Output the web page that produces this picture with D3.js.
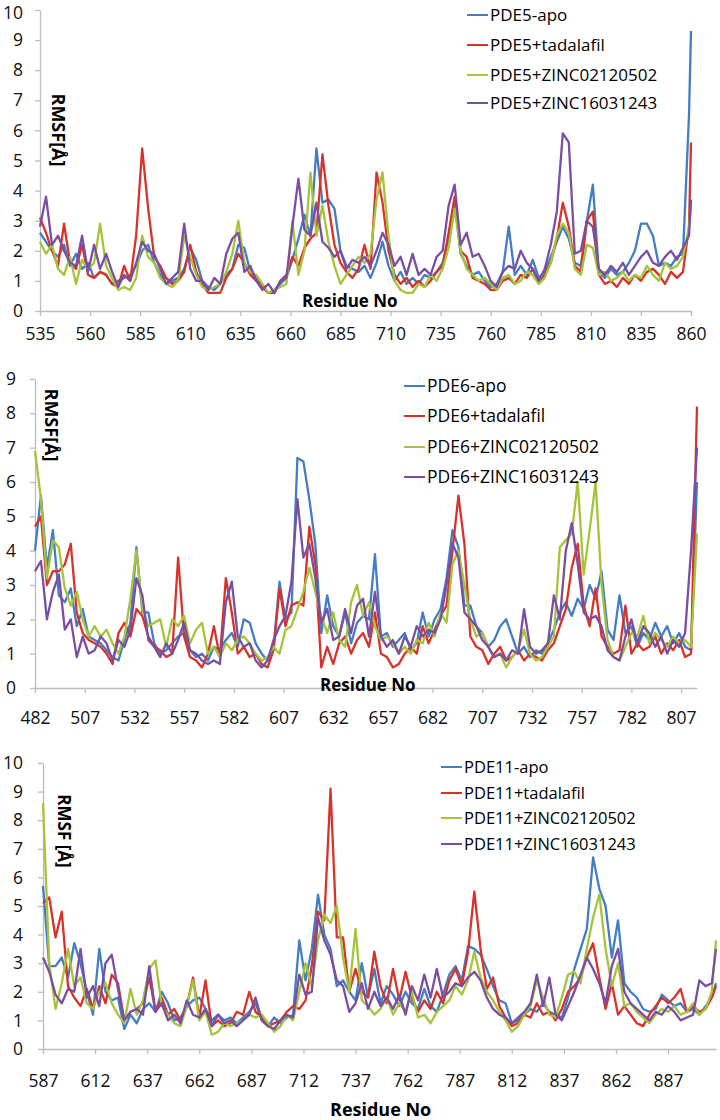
<!DOCTYPE html>
<html><head><meta charset="utf-8">
<script src="https://cdn.jsdelivr.net/npm/d3@7"></script>
<style>
body{margin:0;background:#fff}
svg{display:block}
text{font-family:"Open Sans",sans-serif}
</style>
</head><body>
<svg id="chart" width="720" height="1120"></svg>
<script>
// ---------- DATA ----------
const seriesColors = ["#437dc4", "#d8332a", "#a5c43a", "#7a4ea2"];

// PDE5 panel
const pde5Names = ["PDE5-apo", "PDE5+tadalafil", "PDE5+ZINC02120502", "PDE5+ZINC16031243"];
const pde5Residues = d3.range(535, 860, 3).concat([860]);
const pde5XTicks = [535, 560, 585, 610, 635, 660, 685, 710, 735, 760, 785, 810, 835, 860];
const pde5YTicks = [0, 1, 2, 3, 4, 5, 6, 7, 8, 9, 10];
const pde5Apo = [2.6,2.3,2.0,1.8,2.2,1.5,1.9,1.4,1.6,1.1, 1.3,1.2,0.9,1.0,1.1,1.2,1.5,2.0,2.2,1.6, 1.2,0.9,1.0,1.1,1.4,2.1,1.7,1.0,0.8,0.7, 0.9,1.2,1.4,2.2,2.1,1.3,1.1,0.8,0.6,0.7, 0.9,1.1,1.7,2.4,3.2,2.5,5.4,3.6,3.7,3.4, 2.0,1.5,1.4,1.3,1.5,1.1,1.6,2.3,1.5,1.0, 1.3,0.9,1.1,0.9,1.2,1.1,1.3,1.6,2.4,3.6, 1.9,1.5,1.2,1.3,1.0,0.8,0.9,1.3,2.8,1.2, 1.5,1.2,1.7,1.1,1.3,1.8,2.3,2.8,2.4,1.6, 1.5,3.0,4.2,1.3,1.1,1.4,1.2,1.3,1.6,2.0, 2.9,2.9,2.5,1.5,1.6,1.5,1.8,1.9,6.5,9.3];
const pde5Tadalafil = [3.1,2.6,2.0,1.5,2.9,1.6,1.4,2.2,1.2,1.1, 1.3,1.2,0.9,0.8,1.5,1.0,2.5,5.4,3.4,1.8, 1.5,1.1,0.9,1.0,1.3,2.2,1.3,0.9,0.6,0.6, 0.6,1.1,1.4,1.9,1.6,1.2,1.0,0.8,0.6,0.6, 1.0,1.2,1.8,1.5,2.1,2.4,2.6,5.2,3.5,2.2, 1.6,1.3,1.1,1.4,2.2,1.4,4.6,3.6,2.0,1.2, 0.9,1.1,0.8,1.0,0.8,1.0,1.3,1.5,2.6,3.8, 2.0,1.8,1.1,1.0,0.9,0.7,0.7,1.0,1.1,0.9, 1.2,1.1,1.4,0.9,1.2,1.6,2.4,3.6,2.8,1.5, 1.3,3.0,3.3,1.2,0.9,1.0,0.8,1.1,0.9,1.2, 1.0,1.3,1.4,1.2,0.9,1.3,1.1,1.3,2.8,5.6];
const pde5Zinc021 = [2.3,1.9,2.2,1.4,1.2,1.8,0.9,1.7,1.4,1.6, 2.9,1.5,1.1,0.7,0.8,0.7,1.1,2.5,1.8,1.6, 1.1,0.9,0.8,1.0,2.5,1.8,1.2,0.8,0.7,0.8, 0.9,1.3,1.9,3.0,1.6,1.3,1.2,0.9,0.6,0.7, 0.8,0.9,3.0,1.2,2.0,4.6,2.5,3.5,2.3,1.5, 0.9,1.2,1.5,1.8,1.6,1.9,3.7,4.6,2.5,1.0, 0.7,0.6,0.6,0.9,0.8,1.2,1.0,1.4,2.1,3.4, 2.0,1.4,1.2,1.0,1.1,0.9,0.7,1.1,1.2,0.9, 1.0,1.3,1.2,0.9,1.1,1.6,2.5,2.9,2.6,1.4, 1.2,2.2,2.1,1.2,1.3,1.0,1.1,1.3,1.0,1.2, 1.1,1.5,1.2,1.0,1.6,1.4,1.5,1.8,2.8,3.5];
const pde5Zinc160 = [2.8,3.8,2.2,2.5,2.0,1.6,1.5,2.5,1.3,2.2, 1.4,1.9,1.3,0.8,1.2,1.0,1.6,2.3,2.0,1.9, 1.4,0.9,1.1,1.3,2.9,1.4,1.0,1.0,0.7,1.1, 0.9,1.9,2.4,2.6,1.3,1.5,1.0,0.7,0.9,0.6, 1.0,1.1,2.8,4.4,2.7,2.5,3.6,2.3,2.1,1.8, 2.0,1.4,1.7,1.6,1.8,1.5,2.0,2.6,2.2,1.5, 1.8,1.2,1.9,1.2,1.4,1.2,1.8,2.0,3.5,4.2, 2.2,2.6,1.8,1.9,1.5,1.0,0.8,1.3,1.5,1.4, 2.0,1.6,1.4,1.0,1.4,2.2,3.3,5.9,5.6,1.9, 2.0,3.0,2.8,1.4,1.2,1.5,1.3,1.6,1.2,1.5, 1.8,2.0,1.6,1.5,1.8,2.0,1.7,2.1,2.5,3.7];

// PDE6 panel
const pde6Names = ["PDE6-apo", "PDE6+tadalafil", "PDE6+ZINC02120502", "PDE6+ZINC16031243"];
const pde6Residues = d3.range(482, 816, 3);
const pde6XTicks = [482, 507, 532, 557, 582, 607, 632, 657, 682, 707, 732, 757, 782, 807];
const pde6YTicks = [0, 1, 2, 3, 4, 5, 6, 7, 8, 9];
const pde6Apo = [4.0,5.6,3.5,4.6,2.7,2.5,2.9,1.8,2.3,1.5, 1.4,1.3,1.1,0.9,0.8,1.4,1.9,4.1,2.2,2.2, 1.3,1.0,1.1,1.3,1.5,1.6,1.1,0.9,1.0,0.8, 1.2,1.1,1.4,1.6,1.2,2.0,1.9,1.3,1.0,0.8, 1.2,3.1,2.0,2.2,6.7,6.6,5.5,4.2,1.6,2.7, 1.8,1.5,2.2,1.3,1.9,2.1,2.0,3.9,1.5,1.6, 1.2,1.4,1.6,1.1,1.3,2.2,1.5,2.0,2.3,3.2, 4.6,4.1,2.4,2.4,1.8,1.6,1.2,1.4,1.8,2.0, 1.5,1.0,1.2,0.9,1.1,1.0,1.3,1.7,2.2,2.5, 2.1,2.6,2.3,3.0,2.6,3.4,1.7,1.4,2.7,1.6, 1.8,1.2,1.6,1.4,1.9,1.5,1.8,1.3,1.6,1.2, 1.1,6.0];
const pde6Tadalafil = [4.7,5.0,3.0,3.4,3.4,3.6,4.2,2.2,1.6,1.4, 1.3,1.2,1.0,0.7,1.6,1.9,1.5,2.3,2.1,1.5, 1.2,1.1,0.9,1.0,3.8,1.5,0.9,0.8,0.6,1.0, 1.8,0.9,3.2,2.2,1.0,1.2,0.9,1.0,0.7,0.6, 1.1,2.9,1.8,2.4,2.5,2.4,4.7,3.6,0.6,1.2, 0.7,1.3,1.5,1.0,1.4,1.6,1.2,2.2,1.0,0.9, 0.6,0.7,1.0,1.2,1.0,1.8,1.3,1.7,2.1,2.4, 4.0,5.6,4.2,1.5,1.2,1.1,0.7,1.0,1.2,0.8, 0.9,1.1,0.8,1.0,0.9,0.8,1.1,1.3,1.8,2.3, 3.5,4.2,2.4,1.8,2.9,1.5,1.2,1.0,1.1,2.4, 1.0,1.3,1.1,1.2,1.5,1.0,1.3,1.1,1.4,0.9, 1.0,8.2];
const pde6Zinc021 = [6.9,5.5,3.2,4.3,4.1,2.9,2.4,2.8,2.0,1.5, 1.8,1.5,1.7,1.3,1.0,1.5,2.6,4.0,2.3,1.8, 1.9,2.0,1.2,2.0,1.8,2.1,1.3,1.7,1.9,1.0, 1.2,0.9,1.3,1.1,1.4,1.5,1.3,1.0,0.8,0.9, 1.2,1.0,1.7,1.8,2.3,2.8,3.5,2.8,2.1,1.6, 2.2,1.4,1.2,2.5,3.0,2.1,2.5,1.8,1.4,1.5, 1.3,1.0,1.2,1.0,1.4,1.3,1.9,1.5,2.2,1.9, 3.6,4.0,3.0,2.0,1.5,1.6,1.2,0.9,1.0,0.6, 0.9,1.1,1.7,1.0,0.8,0.9,1.2,1.5,4.1,4.3, 4.5,6.0,3.3,4.6,6.0,3.0,1.4,0.9,0.8,1.2, 1.6,1.5,2.1,1.3,1.6,1.4,1.2,1.5,1.3,1.4, 1.2,4.5];
const pde6Zinc160 = [3.4,3.7,2.0,2.8,3.3,1.7,2.0,0.9,1.5,1.0, 1.1,1.5,1.3,0.8,1.4,1.2,1.7,3.2,2.7,1.4, 1.2,0.9,1.3,1.0,1.4,1.9,1.1,1.0,0.8,0.7, 0.8,0.7,2.5,3.1,1.5,1.2,1.3,0.8,0.6,0.8, 1.4,1.8,2.1,3.1,5.5,3.8,4.2,3.2,1.9,2.3, 1.4,1.5,2.3,1.6,2.4,2.6,1.5,2.8,1.5,1.2, 1.4,1.0,1.5,1.2,1.8,1.5,1.7,1.6,2.0,3.0, 4.2,3.8,2.2,2.0,1.8,1.4,1.2,0.9,1.0,0.8, 1.1,1.0,2.3,1.2,1.0,1.1,1.3,2.7,2.0,4.0, 4.8,3.6,2.2,2.0,2.1,1.8,1.1,0.9,0.8,1.5, 2.0,1.3,1.8,1.6,1.2,1.5,1.0,1.4,1.2,1.6, 4.0,7.0];

// PDE11 panel
const pde11Names = ["PDE11-apo", "PDE11+tadalafil", "PDE11+ZINC02120502", "PDE11+ZINC16031243"];
const pde11Residues = d3.range(587, 909, 3).concat([910]);
const pde11XTicks = [587, 612, 637, 662, 687, 712, 737, 762, 787, 812, 837, 862, 887];
const pde11YTicks = [0, 1, 2, 3, 4, 5, 6, 7, 8, 9, 10];
const pde11Apo = [5.7,2.9,2.9,3.2,2.5,3.7,3.0,2.0,1.2,3.5, 2.0,1.7,1.8,0.7,1.2,0.9,1.4,1.6,1.3,2.0, 1.6,1.0,1.1,1.5,1.7,1.8,1.4,1.0,1.2,1.0, 1.1,0.9,1.1,1.3,1.6,1.0,0.8,1.1,0.9,1.1, 1.2,3.8,2.4,3.5,5.4,4.0,3.5,2.2,2.4,2.0, 1.7,3.0,1.8,2.8,1.6,2.2,1.9,1.5,2.0,1.6, 1.4,2.1,1.5,1.3,1.9,2.6,2.9,2.4,3.6,3.5, 3.3,2.8,2.2,1.7,1.6,0.9,1.0,1.2,1.4,1.3, 1.6,1.3,1.2,1.1,1.8,2.8,3.5,4.2,6.7,5.6, 5.0,3.2,4.5,2.3,2.0,1.8,1.4,1.3,1.4,1.9, 1.7,1.5,1.6,1.3,1.4,1.2,1.5,1.8, 2.3];
const pde11Tadalafil = [5.1,5.3,3.9,4.8,2.2,1.8,1.5,2.1,1.4,2.2, 1.6,2.6,2.3,1.0,1.3,1.4,1.6,2.5,1.3,1.8, 1.2,1.4,1.0,1.5,2.5,1.1,2.4,0.8,1.0,0.8, 0.9,1.3,1.2,2.0,1.3,1.1,0.8,0.9,1.0,1.3, 1.5,1.4,1.7,2.9,4.8,4.5,9.1,3.9,3.9,2.0, 2.8,2.0,1.8,3.4,2.2,1.6,2.8,1.7,2.7,1.8, 1.3,1.7,1.4,2.0,1.6,2.4,2.8,2.2,3.4,5.5, 3.5,2.1,2.5,1.5,1.1,0.8,0.9,1.2,1.1,1.6, 1.2,1.3,1.0,1.4,2.0,2.2,2.5,3.2,3.7,2.5, 1.4,2.3,1.2,1.5,1.2,0.9,0.8,1.2,1.5,1.8, 1.6,1.8,2.1,1.3,1.5,1.3,1.4,1.8, 2.2];
const pde11Zinc021 = [8.6,3.0,1.4,2.3,3.5,2.2,2.5,1.6,1.4,2.0, 2.3,1.6,1.2,0.9,2.1,1.2,1.7,2.8,3.1,1.5, 1.2,0.9,0.8,1.5,2.4,1.0,1.3,0.5,0.6,0.9, 0.8,0.9,1.0,1.2,1.1,1.2,0.9,0.6,0.8,1.2, 1.0,2.0,3.0,2.2,3.8,4.7,4.4,5.0,3.2,2.0, 4.2,1.7,1.5,1.2,1.4,1.8,1.2,1.6,1.3,2.0, 1.1,1.2,0.9,1.3,1.5,1.7,2.2,1.9,2.4,3.4, 2.5,2.0,1.7,1.3,1.0,0.6,0.8,1.2,1.5,2.4, 1.8,1.2,1.1,1.8,2.6,2.7,2.3,3.5,4.6,5.4, 3.5,2.2,3.0,1.5,1.6,1.3,1.1,0.9,1.2,1.4, 1.3,1.5,1.2,1.3,1.6,1.2,1.4,2.0, 3.8];
const pde11Zinc160 = [3.2,2.7,1.9,1.6,2.1,2.0,3.5,1.8,2.2,1.5, 3.0,3.3,2.1,1.0,1.3,1.4,1.2,2.9,1.3,1.6, 1.0,1.2,0.9,1.7,1.2,1.1,1.4,0.8,1.2,0.9, 1.0,0.8,1.0,1.2,1.8,1.0,0.8,0.7,1.0,1.2, 1.1,2.6,1.9,2.0,4.6,3.8,3.3,2.4,2.2,1.3, 1.6,2.3,1.4,2.0,1.5,1.8,1.4,1.9,1.2,2.2, 1.7,2.6,1.8,2.8,1.8,2.0,2.3,2.2,2.5,2.7, 2.4,1.8,1.4,1.2,1.1,0.9,1.1,1.3,1.6,2.6, 1.5,2.5,1.2,1.0,1.5,2.0,2.6,3.2,2.8,2.3, 1.6,2.9,3.5,2.0,1.6,1.4,1.2,1.0,1.3,1.2, 1.5,1.3,1.0,1.1,1.2,2.4,2.2,2.3, 3.5];

// ---------- DRAWING ----------
const svg = d3.select("#chart");

function drawPanel(p) {
  const g = svg.append("g");
  const x = d3.scaleLinear().domain([p.residues[0], p.residues[p.residues.length - 1]]).range([p.left, p.right]);
  const y = d3.scaleLinear().domain([0, p.yTicks[p.yTicks.length - 1]]).range([p.bottom, p.top]);

  const xAxis = g.append("g").attr("transform", `translate(0,${p.bottom})`)
    .call(d3.axisBottom(x).tickValues(p.xTicks).tickSize(5).tickSizeOuter(0).tickPadding(p.xPad).tickFormat(d3.format("d")));
  const yAxis = g.append("g").attr("transform", `translate(${p.left},0)`)
    .call(d3.axisLeft(y).tickValues(p.yTicks).tickSize(5).tickSizeOuter(0).tickPadding(p.yPad).tickFormat(d3.format("d")));
  [xAxis, yAxis].forEach(a => {
    a.select(".domain").attr("stroke", "#bdbdbd").attr("stroke-width", 1.3);
    a.selectAll(".tick line").attr("stroke", "#bdbdbd").attr("stroke-width", 1.3);
    a.selectAll(".tick text").attr("fill", "#111").style("font-size", "17.5px").style("font-family", "'Open Sans',sans-serif");
  });
  if (p.nudgeTop) {
    yAxis.selectAll(".tick text").filter(d => d === p.yTicks[p.yTicks.length - 1]).attr("y", p.nudgeTop);
  }

  const line = d3.line().x((d, i) => x(p.residues[i])).y(d => y(d)).curve(d3.curveLinear);
  p.series.forEach((s, k) => {
    g.append("path").datum(s.slice(0, p.residues.length))
      .attr("fill", "none").attr("stroke", seriesColors[k]).attr("stroke-width", 2.3)
      .attr("stroke-linejoin", "round").attr("d", line);
  });

  // axis titles
  g.append("text").attr("x", p.resX).attr("y", p.resY)
    .style("font-weight", "bold").style("font-size", p.resSize + "px").attr("fill", "#000")
    .text("Residue No");
  g.append("text").attr("transform", `translate(${p.rmsfX},${p.rmsfY}) rotate(90)`)
    .attr("text-anchor", "middle").attr("dy", "0.35em")
    .style("font-weight", "bold").style("font-size", p.rmsfSize + "px").attr("fill", "#000")
    .text(p.rmsfLabel);

  // legend
  const lg = g.append("g");
  p.names.forEach((n, k) => {
    const yy = p.legY[k];
    lg.append("line").attr("x1", p.legX).attr("x2", p.legX + 21).attr("y1", yy).attr("y2", yy)
      .attr("stroke", seriesColors[k]).attr("stroke-width", 2);
    lg.append("text").attr("x", p.legX + 23).attr("y", yy).attr("dy", "0.35em")
      .style("font-size", p.legSize + "px").attr("fill", "#000").text(n);
  });
}

drawPanel({
  residues: pde5Residues, series: [pde5Apo, pde5Tadalafil, pde5Zinc021, pde5Zinc160], names: pde5Names,
  xTicks: pde5XTicks, yTicks: pde5YTicks,
  left: 40, right: 691, top: 10, bottom: 311, xPad: 12, yPad: 12, nudgeTop: 3,
  resX: 302, resY: 307, resSize: 17, rmsfX: 58, rmsfY: 130, rmsfSize: 18, rmsfLabel: "RMSF[Å]",
  legX: 467, legY: [15, 45, 75, 103], legSize: 17
});
drawPanel({
  residues: pde6Residues, series: [pde6Apo, pde6Tadalafil, pde6Zinc021, pde6Zinc160], names: pde6Names,
  xTicks: pde6XTicks, yTicks: pde6YTicks,
  left: 35, right: 697, top: 379, bottom: 688, xPad: 19, yPad: 14,
  resX: 320, resY: 691, resSize: 17, rmsfX: 51, rmsfY: 425, rmsfSize: 18, rmsfLabel: "RMSF[Å]",
  legX: 404, legY: [386, 416, 447, 477], legSize: 17.5
});
drawPanel({
  residues: pde11Residues, series: [pde11Apo, pde11Tadalafil, pde11Zinc021, pde11Zinc160], names: pde11Names,
  xTicks: pde11XTicks, yTicks: pde11YTicks,
  left: 43, right: 716, top: 763, bottom: 1049, xPad: 21, yPad: 15,
  resX: 330, resY: 1116, resSize: 18, rmsfX: 64, rmsfY: 831, rmsfSize: 17, rmsfLabel: "RMSF [Å]",
  legX: 441, legY: [767, 793, 818, 844], legSize: 16.5
});
</script>
</body></html>
